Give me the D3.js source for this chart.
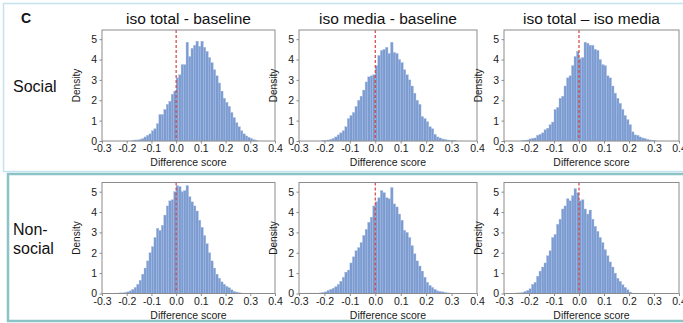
<!DOCTYPE html>
<html>
<head>
<meta charset="utf-8">
<script src="https://cdn.jsdelivr.net/npm/d3@7"></script>
<style>
  body { margin: 0; background: #fff; }
  svg { display: block; font-family: "Liberation Sans", Arial, sans-serif; }
</style>
</head>
<body>
<div id="chart"></div>
<script>
const width = 683,
      height = 323;

// histogram bins: 70 bins of 0.01 from -0.3 to 0.4
const binStart = -0.3,
      binWidth = 0.01;

const colTitles = ['iso total - baseline', 'iso media - baseline', 'iso total \u2013 iso media'],
      rowLabels = [['Social'], ['Non-', 'social']],
      xTicks = [-0.3, -0.2, -0.1, 0.0, 0.1, 0.2, 0.3, 0.4],
      yTicks = [0, 1, 2, 3, 4, 5];

const socialTotalBase = [
  0,0,0,0,0,0,0,0,0,0,
  0,0,0.02,0.05,0.05,0.08,0.12,0.2,0.28,0.35,
  0.5,0.6,0.85,1.3,1.3,1.55,1.8,1.95,2.3,2.45,
  3.1,3.25,3.75,3.75,4.85,4.15,4.55,4.7,4.9,4.65,
  4.9,4.6,4.4,4.1,3.85,3.5,3.2,2.85,2.45,2.1,
  1.9,1.7,1.4,1.15,0.9,0.7,0.5,0.35,0.25,0.18,
  0.12,0.06,0.03,0,0,0,0,0,0,0];

const socialMediaBase = [
  0,0,0,0,0,0,0,0,0,0.02,
  0.03,0.05,0.08,0.13,0.2,0.3,0.4,0.5,0.7,1.1,
  1.25,1.4,1.7,2.0,2.2,2.5,2.9,3.15,3.2,3.25,
  3.7,4.2,4.45,4.5,4.6,4.3,4.85,4.35,4.3,4.0,
  3.85,3.5,3.25,3.0,2.7,2.35,2.0,1.8,1.2,1.1,
  0.95,0.7,0.6,0.33,0.2,0.15,0.1,0.08,0.05,0.03,
  0.03,0.02,0,0,0,0,0,0,0,0];

const socialTotalMedia = [
  0,0,0,0,0,0,0,0.01,0.03,0.05,
  0.1,0.13,0.15,0.28,0.33,0.4,0.55,0.63,0.8,0.93,
  1.55,1.65,2.1,2.2,2.7,3.1,3.2,3.7,4.15,4.4,
  4.05,4.1,4.85,4.8,4.7,4.7,4.5,4.45,4.0,3.75,
  3.7,3.2,3.1,2.7,2.35,2.1,1.85,1.55,1.25,1.05,
  0.8,0.45,0.3,0.28,0.2,0.15,0.12,0.08,0.05,0.03,
  0.01,0,0,0,0,0,0,0,0,0];

const nonsocTotalBase = [
  0,0,0,0,0,0.02,0.02,0.03,0.03,0.05,
  0.08,0.13,0.2,0.3,0.45,0.65,0.95,1.25,1.6,2.0,
  2.3,2.75,3.2,3.1,3.35,3.85,4.3,4.55,4.6,5.0,
  5.3,5.25,5.0,5.05,5.3,4.75,4.5,4.3,4.05,3.6,
  3.25,2.85,2.45,2.0,1.6,1.25,0.95,0.75,0.57,0.45,
  0.35,0.28,0.18,0.1,0.07,0.04,0.02,0,0,0,
  0,0,0,0,0,0,0,0,0,0];

const nonsocMediaBase = [
  0,0,0,0.02,0.02,0.02,0.02,0.02,0.03,0.05,
  0.08,0.15,0.2,0.26,0.33,0.45,0.6,0.8,1.05,1.15,
  1.5,1.8,2.1,2.25,2.5,2.85,3.15,3.5,3.75,4.3,
  4.5,4.7,5.05,4.95,4.7,4.65,5.2,4.4,4.25,3.9,
  3.6,3.1,3.0,2.75,2.35,1.95,1.6,1.35,1.1,0.8,
  0.55,0.4,0.3,0.2,0.13,0.1,0.08,0.05,0.03,0.02,
  0.01,0,0,0,0,0,0,0,0,0];

const nonsocTotalMedia = [
  0,0,0,0,0.02,0.03,0.03,0.05,0.1,0.15,
  0.23,0.45,0.55,0.85,1.1,1.3,1.5,1.85,2.1,2.75,
  2.9,3.4,3.65,4.15,4.3,4.65,4.55,4.8,5.15,4.95,
  4.55,4.6,4.15,3.9,4.1,3.65,3.3,3.05,2.75,2.5,
  2.15,1.85,1.55,1.3,1.0,0.75,0.6,0.43,0.3,0.18,
  0.07,0.02,0.02,0.01,0,0,0,0,0,0,
  0,0,0,0,0,0,0,0,0,0];

const series = [
  [socialTotalBase, socialMediaBase, socialTotalMedia],
  [nonsocTotalBase, nonsocMediaBase, nonsocTotalMedia]
];

// layout
const colX = [[102, 275], [299, 477], [504, 679]],
      rowY = [[30, 141], [182.5, 293.5]];

const svg = d3.select('#chart').append('svg')
    .attr('width', width)
    .attr('height', height);

// panel frames
svg.append('rect')
    .attr('x', 3.5).attr('y', 3.5)
    .attr('width', 682).attr('height', 168)
    .attr('fill', 'none')
    .attr('stroke', '#c3e4ef')
    .attr('stroke-width', 1.5);

svg.append('rect')
    .attr('x', 8).attr('y', 174)
    .attr('width', 680).attr('height', 147)
    .attr('fill', 'none')
    .attr('stroke', '#8cc3c7')
    .attr('stroke-width', 2.5);

svg.append('text')
    .attr('x', 21).attr('y', 23)
    .attr('font-size', 14).attr('font-weight', 'bold')
    .attr('fill', '#111')
    .text('C');

colTitles.forEach((t, c) => {
  svg.append('text')
      .attr('x', (colX[c][0] + colX[c][1]) / 2)
      .attr('y', 24)
      .attr('text-anchor', 'middle')
      .attr('font-size', 15.5)
      .attr('fill', '#111')
      .text(t);
});

rowLabels.forEach((lines, r) => {
  const g = svg.append('text')
      .attr('x', 13)
      .attr('font-size', 16)
      .attr('fill', '#111');
  const yMid = (rowY[r][0] + rowY[r][1]) / 2;
  lines.forEach((ln, i) => {
    g.append('tspan')
        .attr('x', 13)
        .attr('y', yMid + 6 + (i - (lines.length - 1) / 2) * 19)
        .text(ln);
  });
});

series.forEach((rowSeries, r) => {
  rowSeries.forEach((values, c) => {
    const xScale = d3.scaleLinear()
        .domain([-0.3, 0.4])
        .range(colX[c]);
    const yScale = d3.scaleLinear()
        .domain([0, 5.45])
        .range([rowY[r][1], rowY[r][0]]);

    const plot = svg.append('g');

    const bins = values.map((v, i) => ({
      x0: binStart + i * binWidth,
      x1: binStart + (i + 1) * binWidth,
      v: v
    })).filter(d => d.v > 0);

    plot.selectAll('rect.bar')
      .data(bins)
      .enter().append('rect')
        .attr('class', 'bar')
        .attr('x', d => xScale(d.x0))
        .attr('y', d => yScale(d.v))
        .attr('width', d => xScale(d.x1) - xScale(d.x0))
        .attr('height', d => yScale(0) - yScale(d.v))
        .attr('fill', '#7b9bd1')
        .attr('stroke', '#a8bde2')
        .attr('stroke-width', 0.35);

    // zero reference line
    plot.append('line')
        .attr('x1', xScale(0)).attr('x2', xScale(0))
        .attr('y1', rowY[r][0]).attr('y2', rowY[r][1])
        .attr('stroke', '#d9423f')
        .attr('stroke-width', 1.2)
        .attr('stroke-dasharray', '3,2');

    // frame
    plot.append('rect')
        .attr('x', colX[c][0]).attr('y', rowY[r][0])
        .attr('width', colX[c][1] - colX[c][0])
        .attr('height', rowY[r][1] - rowY[r][0])
        .attr('fill', 'none')
        .attr('stroke', '#8c8c8c')
        .attr('stroke-width', 1);

    const xAxis = plot.append('g')
        .attr('transform', `translate(0,${rowY[r][1]})`)
        .call(d3.axisBottom(xScale)
          .tickValues(xTicks)
          .tickSize(2.5)
          .tickPadding(1.5)
          .tickFormat(d => d.toFixed(1)));
    xAxis.select('.domain').remove();
    xAxis.selectAll('line').attr('stroke', '#8c8c8c');
    xAxis.selectAll('text')
        .attr('font-size', 10.5)
        .attr('font-family', '"Liberation Sans", Arial, sans-serif')
        .attr('fill', '#1a1a1a');

    const yAxis = plot.append('g')
        .attr('transform', `translate(${colX[c][0]},0)`)
        .call(d3.axisLeft(yScale)
          .tickValues(yTicks)
          .tickSize(2.5)
          .tickPadding(2.5)
          .tickFormat(d3.format('d')));
    yAxis.select('.domain').remove();
    yAxis.selectAll('line').attr('stroke', '#8c8c8c');
    yAxis.selectAll('text')
        .attr('font-size', 10.5)
        .attr('font-family', '"Liberation Sans", Arial, sans-serif')
        .attr('fill', '#1a1a1a');

    plot.append('text')
        .attr('x', (colX[c][0] + colX[c][1]) / 2)
        .attr('y', rowY[r][1] + 25)
        .attr('text-anchor', 'middle')
        .attr('font-size', 10.5)
        .attr('fill', '#1a1a1a')
        .text('Difference score');

    plot.append('text')
        .attr('transform', `translate(${colX[c][0] - 22},${(rowY[r][0] + rowY[r][1]) / 2}) rotate(-90)`)
        .attr('text-anchor', 'middle')
        .attr('font-size', 10)
        .attr('fill', '#1a1a1a')
        .text('Density');
  });
});
</script>
</body>
</html>
